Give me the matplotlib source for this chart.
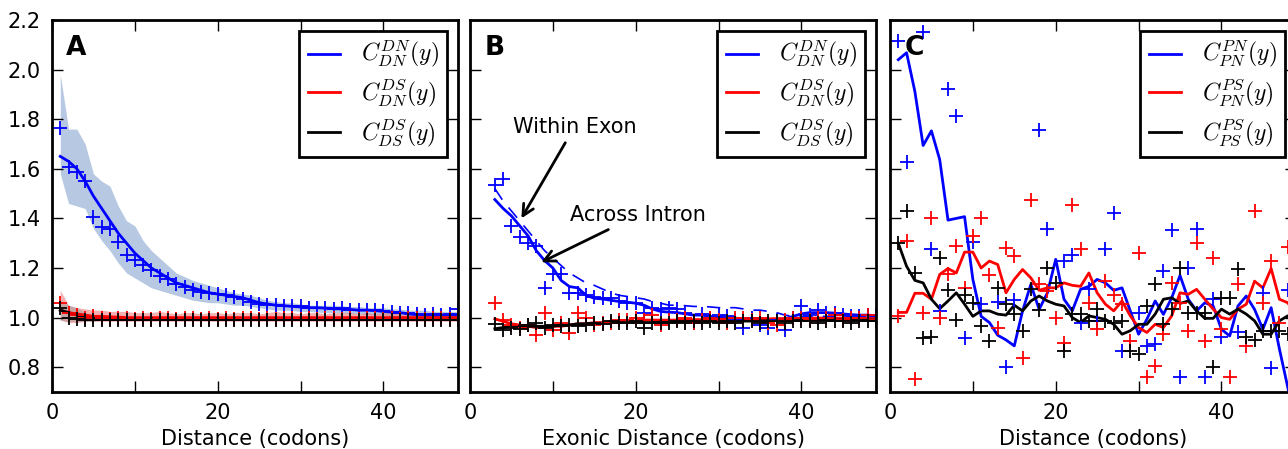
import numpy as np
import matplotlib
matplotlib.use('Agg')
import matplotlib.pyplot as plt

plt.rcParams['font.family'] = ['DejaVu Sans']
plt.rcParams['mathtext.fontset'] = 'cm'

# ---- panel A : distance in codons ----
xa = np.arange(1, 50)
a_dn_line = [1.65, 1.63, 1.60, 1.55, 1.49, 1.44, 1.39, 1.34, 1.30, 1.26,
             1.23, 1.20, 1.18, 1.16, 1.14, 1.13, 1.12, 1.11, 1.10, 1.095,
             1.09, 1.085, 1.08, 1.07, 1.06, 1.055, 1.05, 1.048, 1.045, 1.043,
             1.04, 1.04, 1.038, 1.036, 1.035, 1.033, 1.03, 1.03, 1.028, 1.025,
             1.022, 1.02, 1.015, 1.012, 1.01, 1.01, 1.01, 1.01, 1.01]
a_dn_hi = [1.98, 1.76, 1.76, 1.70, 1.58, 1.55, 1.53, 1.45, 1.39, 1.37,
           1.31, 1.27, 1.24, 1.21, 1.18, 1.165, 1.15, 1.14, 1.13, 1.12,
           1.11, 1.10, 1.095, 1.09, 1.08, 1.07, 1.065, 1.06, 1.06, 1.055,
           1.05, 1.05, 1.05, 1.05, 1.048, 1.045, 1.045, 1.04, 1.04, 1.04,
           1.035, 1.035, 1.03, 1.03, 1.03, 1.025, 1.025, 1.025, 1.025]
a_dn_lo = [1.58, 1.46, 1.45, 1.44, 1.36, 1.31, 1.27, 1.22, 1.18, 1.16,
           1.14, 1.12, 1.11, 1.10, 1.09, 1.08, 1.07, 1.065, 1.06, 1.06,
           1.055, 1.05, 1.05, 1.045, 1.04, 1.035, 1.03, 1.03, 1.028, 1.025,
           1.025, 1.022, 1.02, 1.02, 1.02, 1.015, 1.015, 1.012, 1.01, 1.01,
           1.005, 1.005, 1.0, 1.0, 1.0, 1.0, 1.0, 1.0, 1.0]
a_dn_pts = [1.766, 1.609, 1.589, 1.549, 1.407, 1.364, 1.359, 1.306, 1.254, 1.234,
            1.214, 1.19, 1.166, 1.154, 1.134, 1.122, 1.11, 1.102, 1.10, 1.094,
            1.09, 1.082, 1.074, 1.062, 1.054, 1.05, 1.05, 1.048, 1.045, 1.045,
            1.04, 1.04, 1.038, 1.035, 1.04, 1.03, 1.03, 1.032, 1.03, 1.025,
            1.022, 1.02, 1.018, 1.015, 1.012, 1.015, 1.012, 1.015, 1.035]
a_ds_line = [1.03, 1.02, 1.015, 1.01, 1.005, 1.005, 1.003, 1.002, 1.0, 1.0,
             1.0, 1.0, 1.0, 1.0, 1.0, 1.0, 1.0, 1.0, 1.0, 1.0,
             1.0, 1.0, 1.0, 1.0, 1.0, 1.0, 1.0, 1.0, 1.0, 1.0,
             1.0, 1.0, 1.0, 1.0, 1.0, 1.0, 1.0, 1.0, 1.0, 1.0,
             1.0, 1.0, 1.0, 1.0, 1.0, 1.0, 1.0, 1.0, 1.0]
a_ds_hi = [1.11, 1.05, 1.04, 1.035, 1.03, 1.03, 1.025, 1.025, 1.025, 1.02,
           1.02, 1.02, 1.025, 1.02, 1.015, 1.02, 1.02, 1.015, 1.02, 1.02,
           1.015, 1.02, 1.02, 1.02, 1.015, 1.02, 1.025, 1.02, 1.02, 1.015,
           1.02, 1.02, 1.015, 1.02, 1.02, 1.02, 1.015, 1.02, 1.015, 1.02,
           1.02, 1.015, 1.015, 1.02, 1.015, 1.02, 1.02, 1.015, 1.015]
a_ds_lo = [0.99, 0.98, 0.98, 0.985, 0.985, 0.985, 0.985, 0.985, 0.985, 0.985,
           0.985, 0.985, 0.985, 0.985, 0.985, 0.985, 0.985, 0.985, 0.985, 0.985,
           0.985, 0.985, 0.985, 0.985, 0.985, 0.985, 0.985, 0.985, 0.985, 0.985,
           0.985, 0.985, 0.985, 0.985, 0.985, 0.985, 0.985, 0.985, 0.985, 0.985,
           0.985, 0.985, 0.985, 0.985, 0.985, 0.985, 0.985, 0.985, 0.985]
a_ds_pts = [1.06, 1.02, 1.01, 1.0, 1.005, 1.0, 0.995, 1.0, 1.0, 0.995,
            1.0, 0.995, 1.0, 1.0, 0.995, 1.0, 1.0, 0.995, 1.0, 0.995,
            1.0, 0.995, 1.0, 1.0, 0.995, 1.0, 0.995, 1.0, 1.0, 0.995,
            1.0, 0.995, 1.0, 1.0, 0.995, 1.0, 0.995, 1.0, 1.0, 0.995,
            1.0, 0.995, 1.0, 1.0, 0.995, 1.0, 1.0, 0.995, 1.0]
a_ss_line = [1.03, 1.02, 1.01, 1.0, 0.998, 0.997, 0.996, 0.995, 0.995, 0.995,
             0.995, 0.995, 0.995, 0.995, 0.995, 0.995, 0.995, 0.995, 0.995, 0.995,
             0.995, 0.995, 0.995, 0.995, 0.995, 0.995, 0.995, 0.995, 0.995, 0.995,
             0.995, 0.995, 0.995, 0.995, 0.995, 0.995, 0.995, 0.995, 0.995, 0.995,
             0.995, 0.995, 0.995, 0.995, 0.995, 0.995, 0.995, 0.995, 0.995]
a_ss_hi = [1.07, 1.05, 1.04, 1.02, 1.01, 1.01, 1.005, 1.005, 1.0, 1.0,
           1.0, 1.0, 1.0, 1.0, 1.0, 1.0, 1.0, 1.0, 1.0, 1.0,
           1.0, 1.0, 1.0, 1.0, 1.0, 1.0, 1.0, 1.0, 1.0, 1.0,
           1.0, 1.0, 1.0, 1.0, 1.0, 1.0, 1.0, 1.0, 1.0, 1.0,
           1.0, 1.0, 1.0, 1.0, 1.0, 1.0, 1.0, 1.0, 1.0]
a_ss_lo = [0.99, 0.985, 0.985, 0.985, 0.985, 0.99, 0.99, 0.99, 0.99, 0.99,
           0.99, 0.99, 0.99, 0.99, 0.99, 0.99, 0.99, 0.99, 0.99, 0.99,
           0.99, 0.99, 0.99, 0.99, 0.99, 0.99, 0.99, 0.99, 0.99, 0.99,
           0.99, 0.99, 0.99, 0.99, 0.99, 0.99, 0.99, 0.99, 0.99, 0.99,
           0.99, 0.99, 0.99, 0.99, 0.99, 0.99, 0.99, 0.99, 0.99]
a_ss_pts = [1.04, 1.0, 0.995, 0.99, 0.99, 0.99, 0.99, 0.99, 0.99, 0.99,
            0.99, 0.99, 0.99, 0.99, 0.99, 0.99, 0.99, 0.99, 0.99, 0.99,
            0.99, 0.99, 0.99, 0.99, 0.99, 0.99, 0.99, 0.99, 0.99, 0.99,
            0.99, 0.99, 0.99, 0.99, 0.99, 0.99, 0.99, 0.99, 0.99, 0.99,
            0.99, 0.99, 0.99, 0.99, 0.99, 0.99, 0.99, 0.99, 0.99]

# ---- panel B : exonic distance ----
xb = np.arange(3, 50)
b_dn_line = [1.476, 1.44, 1.41, 1.37, 1.33, 1.27, 1.23, 1.20, 1.15, 1.125,
             1.12, 1.09, 1.078, 1.075, 1.07, 1.065, 1.062, 1.058, 1.05, 1.035,
             1.025, 1.022, 1.02, 1.015, 1.01, 1.01, 1.005, 1.0, 1.0, 0.998,
             0.995, 0.99, 0.99, 0.988, 0.99, 0.995, 1.005, 1.015, 1.02, 1.02,
             1.02, 1.018, 1.015, 1.012, 1.01, 1.01, 1.008]
b_dn_within = [1.52, 1.47, 1.43, 1.39, 1.35, 1.31, 1.27, 1.24, 1.21, 1.18,
               1.16, 1.14, 1.13, 1.115, 1.10, 1.09, 1.085, 1.08, 1.075, 1.065,
               1.058, 1.05, 1.05, 1.048, 1.045, 1.045, 1.043, 1.04, 1.04, 1.04,
               1.035, 1.03, 1.03, 1.025, 1.02, 1.01, 1.005, 1.005, 1.005, 1.005,
               1.005, 1.005, 1.005, 1.005, 1.005, 1.005, 1.005]
b_dn_pts = [1.536, 1.56, 1.368, 1.327, 1.30, 1.287, 1.118, 1.175, 1.175, 1.10,
            1.10, 1.09, 1.085, 1.08, 1.08, 1.065, 1.06, 1.06, 1.02, 1.04,
            1.035, 1.04, 1.033, 1.02, 0.98, 1.015, 1.0, 1.01, 1.005, 0.99,
            0.957, 1.0, 0.97, 0.957, 0.99, 0.95, 1.0, 1.045, 1.01, 1.03,
            1.02, 1.02, 1.01, 1.005, 1.005, 1.01, 1.01]
b_ds_line = [0.995, 0.985, 0.975, 0.97, 0.965, 0.96, 0.96, 0.965, 0.965, 0.97,
             0.975, 0.975, 0.98, 0.98, 0.985, 0.985, 0.985, 0.985, 0.99, 0.99,
             0.99, 0.99, 0.99, 0.99, 0.992, 0.992, 0.993, 0.993, 0.994, 0.994,
             0.995, 0.995, 0.995, 0.995, 0.996, 0.996, 0.997, 0.997, 0.998, 0.998,
             0.998, 0.998, 0.998, 0.998, 0.998, 0.998, 0.998]
b_ds_pts = [1.06, 0.99, 0.97, 0.96, 0.97, 0.93, 1.02, 0.95, 0.98, 0.937,
            1.02, 1.0, 0.97, 0.98, 0.98, 0.99, 0.99, 1.0, 0.99, 1.01,
            0.97, 0.99, 0.99, 1.0, 0.98, 0.99, 1.0, 0.99, 0.98, 1.0,
            1.0, 0.99, 1.0, 0.98, 0.97, 0.99, 1.0, 1.0, 0.99, 1.0,
            1.0, 1.01, 0.99, 1.0, 1.0, 1.01, 0.99]
b_ss_line = [0.955, 0.96, 0.965, 0.965, 0.965, 0.965, 0.965, 0.965, 0.97, 0.97,
             0.975, 0.975, 0.975, 0.978, 0.98, 0.98, 0.98, 0.98, 0.98, 0.98,
             0.982, 0.982, 0.983, 0.984, 0.985, 0.985, 0.985, 0.985, 0.985, 0.986,
             0.986, 0.986, 0.987, 0.987, 0.988, 0.988, 0.988, 0.989, 0.99, 0.99,
             0.99, 0.99, 0.99, 0.99, 0.99, 0.99, 0.99]
b_ss_pts = [0.975, 0.95, 0.96, 0.955, 0.97, 0.98, 0.96, 0.97, 0.965, 0.97,
            0.965, 0.97, 0.98, 0.975, 0.985, 0.98, 0.98, 0.985, 0.96, 0.98,
            0.98, 0.98, 0.985, 0.98, 0.985, 0.98, 0.985, 0.98, 0.985, 0.98,
            0.985, 0.985, 0.98, 0.985, 0.985, 0.98, 0.985, 0.985, 0.985, 0.98,
            0.985, 0.985, 0.985, 0.98, 0.985, 0.985, 0.985]

# ---- panel C : distance in codons ----
xc = np.arange(1, 50)
c_pn_line = [2.04, 2.068, 1.912, 1.694, 1.753, 1.637, 1.393, 1.40, 1.407, 1.154,
             1.005, 0.98, 0.929, 0.91, 0.886, 1.027, 1.134, 1.033, 1.10, 1.235,
             1.074, 1.027, 1.114, 1.126, 1.154, 1.14, 1.11, 1.12, 1.027, 0.933,
             0.993, 1.067, 1.013, 1.08, 1.17, 1.074, 1.027, 1.06, 1.047, 0.953,
             0.926, 1.047, 1.087, 1.033, 0.953, 1.04, 0.873, 0.72, 0.55]
c_ps_line = [1.021, 1.021, 1.098, 1.098, 1.074, 1.174, 1.198, 1.18, 1.264, 1.264,
             1.20, 1.228, 1.214, 1.10, 1.154, 1.194, 1.16, 1.11, 1.12, 1.12,
             1.14, 1.13, 1.126, 1.18, 1.10, 1.054, 1.027, 1.067, 1.007, 0.96,
             0.94, 0.973, 0.96, 1.007, 1.10, 1.094, 1.114, 1.074, 1.034, 1.0,
             0.993, 1.034, 1.054, 1.147, 1.12, 1.198, 1.074, 1.06, 1.013]
c_ss_line = [1.30, 1.207, 1.15, 1.14, 1.074, 1.036, 1.067, 1.10, 1.054, 1.005,
             1.027, 1.027, 1.014, 1.01, 1.05, 1.027, 1.067, 1.087, 1.067, 1.054,
             1.047, 1.0, 0.98, 1.007, 1.0, 0.993, 0.973, 0.933, 0.947, 0.973,
             0.973, 1.014, 1.074, 1.08, 1.057, 1.067, 1.027, 0.997, 0.997, 1.034,
             1.014, 1.034, 1.014, 0.987, 0.933, 0.933, 0.987, 1.007, 0.987]
c_pn_x = [1, 2, 4, 5, 6, 7, 8, 9, 10, 11, 13, 14, 15, 18, 19, 21, 22, 23, 24, 25,
          26, 27, 28, 30, 31, 32, 33, 34, 35, 36, 37, 38, 39, 40, 42, 45, 46, 48]
c_pn_pts = [2.117, 1.626, 2.15, 1.278, 1.027, 1.921, 1.811, 0.917, 1.304, 1.054,
            1.063, 0.80, 1.07, 1.758, 1.359, 1.228, 1.251, 0.98, 1.114, 0.987,
            1.278, 1.423, 0.864, 1.02, 0.886, 0.893, 1.188, 1.355, 0.76, 1.20,
            1.359, 0.76, 1.074, 0.92, 0.94, 1.10, 0.797, 1.11]
c_ps_pts = [1.007, 1.309, 0.752, 1.02, 1.40, 1.0, 1.174, 1.287, 1.12, 1.331,
            1.40, 1.17, 0.96, 1.28, 1.25, 0.836, 1.476, 1.134, 1.107, 1.0,
            0.896, 1.456, 1.278, 1.06, 0.953, 1.147, 1.09, 1.054, 0.907, 1.26,
            0.76, 0.805, 0.933, 1.14, 1.06, 0.946, 1.30, 0.907, 1.24, 0.953,
            0.76, 1.134, 0.886, 1.43, 1.06, 1.23, 0.98, 1.284, 0.81]
c_ss_pts = [1.30, 1.428, 1.18, 0.917, 0.92, 1.24, 1.11, 0.99, 1.09, 1.06,
            0.967, 0.907, 1.12, 1.054, 1.013, 0.946, 1.114, 1.03, 1.20, 1.14,
            0.864, 1.013, 1.013, 0.987, 1.034, 0.987, 0.98, 0.987, 0.866, 0.853,
            1.047, 1.134, 0.973, 1.034, 1.198, 1.02, 1.02, 1.02, 0.80, 1.08,
            1.08, 1.194, 0.92, 0.91, 0.946, 0.946, 0.946, 0.933, 0.95]

W, H = 1288, 449
fig = plt.figure(figsize=(W / 100, H / 100), dpi=100)
lefts = [52, 470, 890]
axes = [fig.add_axes([l / W, 57 / H, 406 / W, 372 / H]) for l in lefts]

lw = 2.0
ms = 10
mew = 1.3

def style(ax, ylabels):
    ax.set_xlim(0, 49)
    ax.set_ylim(0.7, 2.2)
    ax.set_xticks([0, 10, 20, 30, 40])
    ax.set_xticklabels(['0', '', '20', '', '40'])
    ax.set_yticks([0.8, 1.0, 1.2, 1.4, 1.6, 1.8, 2.0, 2.2])
    if not ylabels:
        ax.set_yticklabels([])
    ax.tick_params(direction='in', top=True, right=True, length=8, width=1,
                   labelsize=15, pad=8)
    for s in ax.spines.values():
        s.set_linewidth(2)

def legend(ax, labels):
    leg = ax.legend(labels=labels, loc='upper right', fontsize=17,
                    fancybox=False, framealpha=1, handlelength=1.35,
                    handletextpad=0.9, borderpad=0.35, labelspacing=0.28,
                    borderaxespad=0, bbox_to_anchor=(0.973, 0.97))
    leg.get_frame().set_edgecolor('black')
    leg.get_frame().set_linewidth(2)

# panel A
ax = axes[0]
ax.plot(xa, a_dn_line, color='blue', lw=lw)
ax.plot(xa, a_ds_line, color='red', lw=lw)
ax.plot(xa, a_ss_line, color='black', lw=lw)
ax.fill_between(xa, a_dn_lo, a_dn_hi, color='#7d9ccc', alpha=0.55, lw=0)
ax.fill_between(xa, a_ds_lo, a_ds_hi, color='#f07070', alpha=0.55, lw=0)
ax.fill_between(xa, a_ss_lo, a_ss_hi, color='#999999', alpha=0.5, lw=0)
ax.plot(xa, a_dn_pts, '+', color='blue', ms=ms, mew=mew)
ax.plot(xa, a_ds_pts, '+', color='red', ms=ms, mew=mew)
ax.plot(xa, a_ss_pts, '+', color='black', ms=ms, mew=mew)
style(ax, True)
ax.set_xlabel('Distance (codons)', fontsize=15)
legend(ax, [r'$C_{DN}^{DN}(y)$', r'$C_{DN}^{DS}(y)$', r'$C_{DS}^{DS}(y)$'])
ax.text(0.035, 0.925, 'A', transform=ax.transAxes, fontsize=19,
        fontweight='bold', va='center')

# panel B
ax = axes[1]
ax.plot(xb, b_dn_line, color='blue', lw=lw)
ax.plot(xb, b_ds_line, color='red', lw=lw)
ax.plot(xb, b_ss_line, color='black', lw=lw)
ax.plot(xb, b_dn_within, color='blue', lw=1.2, ls=(0, (8, 6)))
ax.plot(xb, b_dn_pts, '+', color='blue', ms=ms, mew=mew)
ax.plot(xb, b_ds_pts, '+', color='red', ms=ms, mew=mew)
ax.plot(xb, b_ss_pts, '+', color='black', ms=ms, mew=mew)
style(ax, False)
ax.set_xlabel('Exonic Distance (codons)', fontsize=15)
legend(ax, [r'$C_{DN}^{DN}(y)$', r'$C_{DN}^{DS}(y)$', r'$C_{DS}^{DS}(y)$'])
ax.text(0.035, 0.925, 'B', transform=ax.transAxes, fontsize=19,
        fontweight='bold', va='center')
ax.text(5.2, 1.77, 'Within Exon', fontsize=15, va='center', ha='left')
ax.annotate('', xy=(6.2, 1.40), xytext=(11.5, 1.705),
            arrowprops=dict(arrowstyle='->', lw=2, color='black',
                            mutation_scale=20, shrinkA=0, shrinkB=0))
ax.text(12.1, 1.415, 'Across Intron', fontsize=15, va='center', ha='left')
ax.annotate('', xy=(8.6, 1.223), xytext=(16.7, 1.355),
            arrowprops=dict(arrowstyle='->', lw=2, color='black',
                            mutation_scale=20, shrinkA=0, shrinkB=0))

# panel C
ax = axes[2]
ax.plot(xc, c_pn_line, color='blue', lw=lw)
ax.plot(xc, c_ps_line, color='red', lw=lw)
ax.plot(xc, c_ss_line, color='black', lw=lw)
ax.plot(c_pn_x, c_pn_pts, '+', color='blue', ms=ms, mew=mew)
ax.plot(xc, c_ps_pts, '+', color='red', ms=ms, mew=mew)
ax.plot(xc, c_ss_pts, '+', color='black', ms=ms, mew=mew)
style(ax, False)
ax.set_xlabel('Distance (codons)', fontsize=15)
legend(ax, [r'$C_{PN}^{PN}(y)$', r'$C_{PN}^{PS}(y)$', r'$C_{PS}^{PS}(y)$'])
ax.text(0.035, 0.925, 'C', transform=ax.transAxes, fontsize=19,
        fontweight='bold', va='center')

fig.savefig('out.png', dpi=100)
